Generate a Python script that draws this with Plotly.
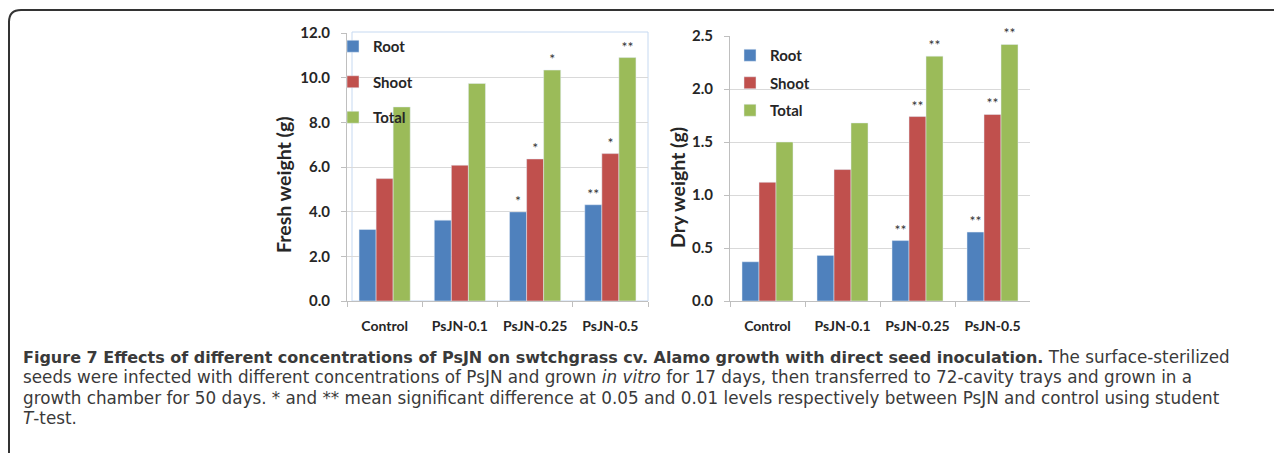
import plotly.graph_objects as go

W, H = 1282, 453

categories = ["Control", "PsJN-0.1", "PsJN-0.25", "PsJN-0.5"]
series_names = ["Root", "Shoot", "Total"]

fresh_root = [3.2, 3.62, 3.99, 4.31]
fresh_shoot = [5.48, 6.08, 6.36, 6.6]
fresh_total = [8.69, 9.74, 10.34, 10.9]
fresh_sig_root = ["", "", "*", "**"]
fresh_sig_shoot = ["", "", "*", "*"]
fresh_sig_total = ["", "", "*", "**"]

dry_root = [0.37, 0.43, 0.57, 0.65]
dry_shoot = [1.12, 1.24, 1.74, 1.76]
dry_total = [1.5, 1.68, 2.31, 2.42]
dry_sig_root = ["", "", "**", "**"]
dry_sig_shoot = ["", "", "**", "**"]
dry_sig_total = ["", "", "**", "**"]

fresh_ticks = [0, 2, 4, 6, 8, 10, 12]
fresh_ticklabels = ["0.0", "2.0", "4.0", "6.0", "8.0", "10.0", "12.0"]
dry_ticks = [0, 0.5, 1.0, 1.5, 2.0, 2.5]
dry_ticklabels = ["0.0", "0.5", "1.0", "1.5", "2.0", "2.5"]

fresh_title = "Fresh weight (g)"
dry_title = "Dry weight (g)"

colors = ["#4F81BD", "#C0504D", "#9BBB59"]

caption_bold = "Figure 7 Effects of different concentrations of PsJN on swtchgrass cv. Alamo growth with direct seed inoculation."
caption_lines = [
    " The surface-sterilized",
    "seeds were infected with different concentrations of PsJN and grown <i>in vitro</i> for 17 days, then transferred to 72-cavity trays and grown in a",
    "growth chamber for 50 days. * and ** mean significant difference at 0.05 and 0.01 levels respectively between PsJN and control using student",
    "<i>T</i>-test.",
]

# page body adds an 8px offset; work in target-image pixels
OFF = 8


def px(x):
    return (x - OFF) / W


def py(y):
    return 1 - (y - OFF) / H


CHART_FONT = "Lato, 'Open Sans', sans-serif"
TXT = "#262626"

fig = go.Figure()

left_data = [(fresh_root, fresh_sig_root), (fresh_shoot, fresh_sig_shoot), (fresh_total, fresh_sig_total)]
right_data = [(dry_root, dry_sig_root), (dry_shoot, dry_sig_shoot), (dry_total, dry_sig_total)]

for i, (vals, sig) in enumerate(left_data):
    fig.add_trace(go.Bar(
        x=categories, y=vals, name=series_names[i], marker_color=colors[i],
        text=sig, textposition="outside", cliponaxis=False, constraintext="none",
        textfont=dict(family=CHART_FONT, size=14, color="#333"),
        xaxis="x", yaxis="y", legend="legend", legendgroup="L" + str(i),
    ))
for i, (vals, sig) in enumerate(right_data):
    fig.add_trace(go.Bar(
        x=categories, y=vals, name=series_names[i], marker_color=colors[i],
        text=sig, textposition="outside", cliponaxis=False, constraintext="none",
        textfont=dict(family=CHART_FONT, size=14, color="#333"),
        xaxis="x2", yaxis="y2", legend="legend2", legendgroup="R" + str(i),
    ))

axis_common_x = dict(
    type="category", showgrid=False, showline=True, linecolor="#bfbfbf", linewidth=1,
    ticks="outside", tickson="boundaries", ticklen=5, tickcolor="#bfbfbf",
    ticklabelstandoff=12,
    tickfont=dict(family=CHART_FONT, size=14, color=TXT, weight="bold"),
)
axis_common_y = dict(
    showgrid=True, gridcolor="#d9d9d9", gridwidth=1, showline=True, linecolor="#bfbfbf",
    ticks="outside", ticklen=5, tickcolor="#bfbfbf", zeroline=False,
    ticklabelstandoff=8,
    tickfont=dict(family=CHART_FONT, size=15, color=TXT, weight="bold"),
)

fig.update_layout(
    width=W, height=H,
    margin=dict(l=0, r=0, t=0, b=0, autoexpand=False),
    paper_bgcolor="white", plot_bgcolor="white",
    barmode="group", bargap=0.32, bargroupgap=0,
    showlegend=True,
    xaxis=dict(domain=[px(347), px(648)], anchor="y", **axis_common_x),
    yaxis=dict(domain=[py(301), py(33)], anchor="x", range=[0, 12],
               tickvals=fresh_ticks, ticktext=fresh_ticklabels, **axis_common_y),
    xaxis2=dict(domain=[px(730), px(1030)], anchor="y2", **axis_common_x),
    yaxis2=dict(domain=[py(301), py(36)], anchor="x2", range=[0, 2.5],
                tickvals=dry_ticks, ticktext=dry_ticklabels, **axis_common_y),
    legend=dict(x=px(333), y=py(30), xanchor="left", yanchor="top",
                bgcolor="rgba(0,0,0,0)", itemwidth=30, traceorder="grouped",
                tracegroupgap=13,
                font=dict(family=CHART_FONT, size=15, color=TXT, weight="bold")),
    legend2=dict(x=px(730), y=py(39), xanchor="left", yanchor="top",
                 bgcolor="rgba(0,0,0,0)", itemwidth=30, traceorder="grouped",
                 tracegroupgap=5,
                 font=dict(family=CHART_FONT, size=15, color=TXT, weight="bold")),
)

# axis titles (positioned like the original, slightly below the plot centre)
for title, xx, yy in [(fresh_title, 283, 185), (dry_title, 677, 188)]:
    fig.add_annotation(x=px(xx), y=py(yy), xref="paper", yref="paper",
                       xanchor="center", yanchor="middle", textangle=-90,
                       text=title, showarrow=False,
                       font=dict(family=CHART_FONT, size=19.5, color=TXT, weight="bold"))

# light blue chart-area border of left chart
fig.add_shape(type="rect", xref="paper", yref="paper",
              x0=px(352), x1=px(648), y0=py(301), y1=py(32),
              line=dict(color="#c6d9f1", width=1), layer="below")

# figure frame (top + left with rounded corner)
frame_path = (f"M {px(9)},{py(470)} L {px(9)},{py(22)} "
              f"Q {px(9)},{py(10)} {px(21)},{py(10)} L {px(1300)},{py(10)}")
fig.add_shape(type="path", xref="paper", yref="paper", path=frame_path,
              line=dict(color="#333333", width=2))

# caption: base size sets the ~20px line pitch, spans set glyph size
first = (f'<span style="font-size:16px"><b>{caption_bold}</b></span>'
         f'<span style="font-size:16.8px">{caption_lines[0]}</span>')
rest = [f'<span style="font-size:16.8px">{ln}</span>' for ln in caption_lines[1:]]
caption_text = "<br>".join([first] + rest)
fig.add_annotation(
    x=px(21), y=py(387), xref="paper", yref="paper", xanchor="left", yanchor="middle",
    text=caption_text, showarrow=False, align="left",
    font=dict(family="'DejaVu Sans', sans-serif", size=15.6, color="#3a3a3a"),
)

fig.write_html("out.html")
